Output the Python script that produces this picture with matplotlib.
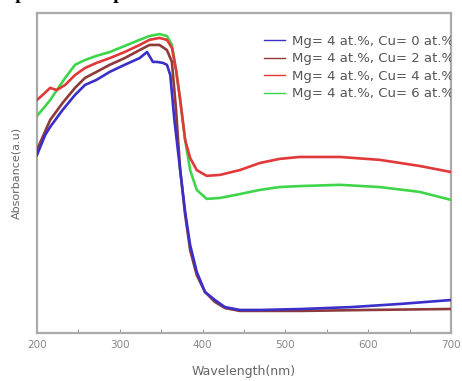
import matplotlib
matplotlib.use("Agg")
import matplotlib.pyplot as plt
import numpy as np

# absorbance spectra, Mg 4 at.% with varying Cu content
wl_cu0 = [200, 210, 216, 231, 246, 258, 272, 288, 306, 324, 333, 340, 345, 352, 357, 361,
          366, 373, 379, 385, 393, 403, 415, 427, 445, 470, 520, 580, 640, 700]
abs_cu0 = [0.556, 0.619, 0.644, 0.697, 0.744, 0.775, 0.791, 0.816, 0.838, 0.859, 0.878, 0.847,
           0.847, 0.844, 0.838, 0.806, 0.666, 0.509, 0.378, 0.275, 0.191, 0.128, 0.103, 0.081,
           0.072, 0.072, 0.075, 0.081, 0.091, 0.103]

wl_cu2 = [200, 216, 231, 246, 258, 272, 288, 306, 324, 336, 348, 357, 363, 368, 373, 379,
          385, 393, 403, 415, 427, 445, 520, 600, 700]
abs_cu2 = [0.572, 0.666, 0.719, 0.766, 0.797, 0.816, 0.838, 0.859, 0.884, 0.900, 0.900, 0.884,
           0.847, 0.697, 0.509, 0.369, 0.259, 0.181, 0.128, 0.097, 0.078, 0.069, 0.069, 0.072,
           0.075]

wl_cu4 = [200, 207, 216, 224, 234, 246, 258, 272, 288, 306, 324, 336, 348, 357, 363, 368,
          373, 379, 385, 393, 405, 421, 445, 469, 493, 517, 566, 614, 662, 700]
abs_cu4 = [0.728, 0.744, 0.766, 0.759, 0.775, 0.806, 0.828, 0.844, 0.859, 0.878, 0.900, 0.916,
           0.922, 0.916, 0.891, 0.822, 0.728, 0.603, 0.547, 0.509, 0.491, 0.494, 0.509, 0.531,
           0.544, 0.550, 0.550, 0.541, 0.522, 0.503]

wl_cu6 = [200, 210, 216, 224, 234, 246, 258, 272, 288, 306, 324, 336, 348, 357, 363, 368,
          373, 379, 385, 393, 405, 421, 445, 469, 493, 517, 566, 614, 662, 700]
abs_cu6 = [0.678, 0.709, 0.728, 0.759, 0.797, 0.838, 0.853, 0.866, 0.878, 0.897, 0.916, 0.928,
           0.934, 0.928, 0.900, 0.822, 0.728, 0.603, 0.509, 0.447, 0.419, 0.422, 0.434, 0.447,
           0.456, 0.459, 0.463, 0.456, 0.441, 0.416]

labels = ["Mg= 4 at.%, Cu= 0 at.%", "Mg= 4 at.%, Cu= 2 at.%",
          "Mg= 4 at.%, Cu= 4 at.%", "Mg= 4 at.%, Cu= 6 at.%"]
colors = ["#3a2fc8", "#8e3a3a", "#e2383a", "#3fd54a"]

fig = plt.figure(figsize=(4.62, 3.81), dpi=100)
ax = fig.add_axes([0.080, 0.126, 0.896, 0.840])

series = [(wl_cu0, abs_cu0), (wl_cu2, abs_cu2), (wl_cu4, abs_cu4), (wl_cu6, abs_cu6)]
lines = {}
for i in [3, 2, 1, 0]:
    wl, a = series[i]
    lines[i], = ax.plot(wl, a, color=colors[i], lw=1.9, label=labels[i], zorder=3 + (3 - i))

ax.set_xlim(200, 700)
ax.set_ylim(0, 1)
ax.set_xticks(np.arange(200, 701, 100))
ax.set_xticks(np.arange(250, 700, 100), minor=True)
ax.set_yticks([])
ax.tick_params(axis='x', which='both', direction='in', colors='#999999', labelcolor='#888888',
               labelsize=7.5, length=3, width=0.8, pad=5)
for s in ax.spines.values():
    s.set_color('#aaaaaa')
    s.set_linewidth(1.6)

ax.set_xlabel('Wavelength(nm)', fontsize=9, color='#666666', labelpad=11)
ax.set_ylabel('Absorbance(a.u)', fontsize=8, color='#666666', labelpad=11)

leg = ax.legend(handles=[lines[i] for i in range(4)], loc='upper left',
                bbox_to_anchor=(0.52, 0.968), frameon=False, fontsize=9.5,
                handlelength=1.6, handletextpad=0.5, labelspacing=0.33)
for t in leg.get_texts():
    t.set_color('#555555')
    t.set_clip_on(True)
    t.set_clip_box(ax.bbox)
for h in leg.get_lines():
    h.set_linewidth(1.0)

# section heading, mostly outside the top edge
fig.text(0.0, 1 + 1.0 / 381, "Optical absorption Studies", fontsize=14, fontweight='bold',
         family='Liberation Serif', va='baseline', ha='left')

plt.savefig("out.png", dpi=100)
